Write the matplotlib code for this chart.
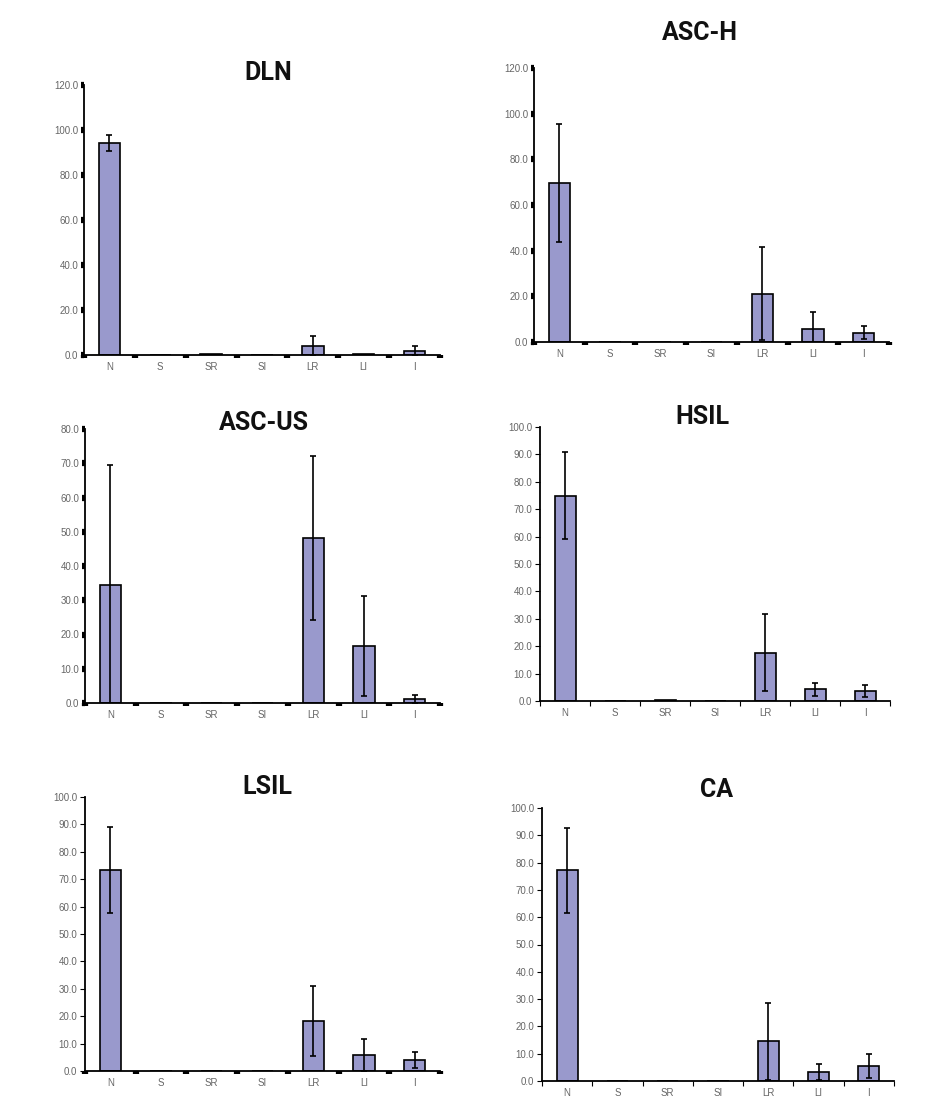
import matplotlib
matplotlib.use('Agg')
import matplotlib.pyplot as plt
from matplotlib.ticker import FormatStrFormatter, MultipleLocator, FixedLocator
import numpy as np

categories = ['N', 'S', 'SR', 'SI', 'LR', 'LI', 'I']
titles = ['DLN', 'ASC-H', 'ASC-US', 'HSIL', 'LSIL', 'CA']

dln_mean = [94.1, 0, 0.6, 0, 4.0, 0.5, 1.8]
dln_err = [3.6, 0, 0, 0, 4.4, 0, 2.0]
asch_mean = [69.5, 0, 0, 0, 21.2, 5.9, 4.1]
asch_err = [25.8, 0, 0, 0, 20.5, 7.3, 2.8]
ascus_mean = [34.5, 0, 0, 0, 48.2, 16.7, 1.2]
ascus_err = [35.0, 0, 0, 0, 24.0, 14.6, 1.2]
hsil_mean = [75.0, 0, 0.5, 0, 17.7, 4.3, 3.6]
hsil_err = [15.7, 0, 0, 0, 14.2, 2.3, 2.2]
lsil_mean = [73.4, 0, 0, 0, 18.2, 5.7, 4.1]
lsil_err = [15.6, 0, 0, 0, 12.8, 5.8, 2.9]
ca_mean = [77.2, 0, 0, 0, 14.5, 3.3, 5.5]
ca_err = [15.6, 0, 0, 0, 14.1, 2.8, 4.5]

means = [dln_mean, asch_mean, ascus_mean, hsil_mean, lsil_mean, ca_mean]
errs = [dln_err, asch_err, ascus_err, hsil_err, lsil_err, ca_err]
y_max = [120, 120, 80, 100, 100, 100]
y_step = [20, 20, 10, 10, 10, 10]

# layout in pixels of the 927x1098 picture: x0, x1, ytop, ybottom
W, H = 927, 1098
boxes = [(84, 440, 85, 355), (534, 889, 68, 342),
         (85, 440, 429, 703), (540, 890, 427, 701),
         (85, 440, 797, 1071), (542, 894, 808, 1081)]
title_pos = [(268, 73), (700, 33), (264, 423), (702, 417), (267, 787), (717, 790)]
heavy_y = [True, True, True, False, False, False]
heavy_x = [True, True, True, False, True, False]

BAR = '#9999cc'
TICKCOL = '#666666'
LABEL_FONT = 'Liberation Sans'
TITLE_FONT = 'Roboto'

fig = plt.figure(figsize=(W / 100, H / 100), dpi=100)
fig.patch.set_facecolor('white')

x = np.arange(len(categories))
for i in range(6):
    x0, x1, yt, yb = boxes[i]
    ax = fig.add_axes([x0 / W, 1 - yb / H, (x1 - x0) / W, (yb - yt) / H])
    m = np.array(means[i])
    e = np.array(errs[i])
    ax.bar(x, m, width=0.42, color=BAR, edgecolor='black', linewidth=1.2, zorder=2)
    has = e > 0
    ax.errorbar(x[has], m[has], yerr=e[has], fmt='none', ecolor='black',
                elinewidth=1.2, capsize=2.5, capthick=1.2, zorder=3)

    ax.set_xlim(-0.5, len(categories) - 0.5)
    ax.set_ylim(0, y_max[i])
    ax.yaxis.set_major_locator(MultipleLocator(y_step[i]))
    ax.yaxis.set_major_formatter(FormatStrFormatter('%.1f'))

    ax.set_xticks(x)
    ax.set_xticklabels(categories)
    ax.xaxis.set_minor_locator(FixedLocator(np.arange(len(categories) + 1) - 0.5))
    ax.tick_params(axis='x', which='major', length=0, pad=5,
                   labelsize=7, labelcolor=TICKCOL)
    if heavy_x[i]:
        ax.tick_params(axis='x', which='minor', length=2.2, width=4.5,
                       direction='out', color='black')
    else:
        ax.tick_params(axis='x', which='minor', length=3.5, width=0.8,
                       direction='out', color='black')
    if heavy_y[i]:
        ax.tick_params(axis='y', length=2.2, width=4.5, color='black',
                       labelsize=7, labelcolor=TICKCOL, pad=2)
    else:
        ax.tick_params(axis='y', length=3.5, width=0.8, color='black',
                       labelsize=7, labelcolor=TICKCOL, pad=2)
    for lab in ax.get_xticklabels() + ax.get_yticklabels():
        lab.set_family(LABEL_FONT)

    for side in ['top', 'right']:
        ax.spines[side].set_visible(False)
    for side in ['left', 'bottom']:
        ax.spines[side].set_linewidth(1.3)
        ax.spines[side].set_color('black')
    ax.set_facecolor('white')

    tx, ty = title_pos[i]
    fig.text(tx / W, 1 - ty / H, titles[i], ha='center', va='center',
             fontsize=18, fontweight='bold', family=TITLE_FONT, color='#111111')

fig.savefig('out.png', dpi=100, facecolor='white')
